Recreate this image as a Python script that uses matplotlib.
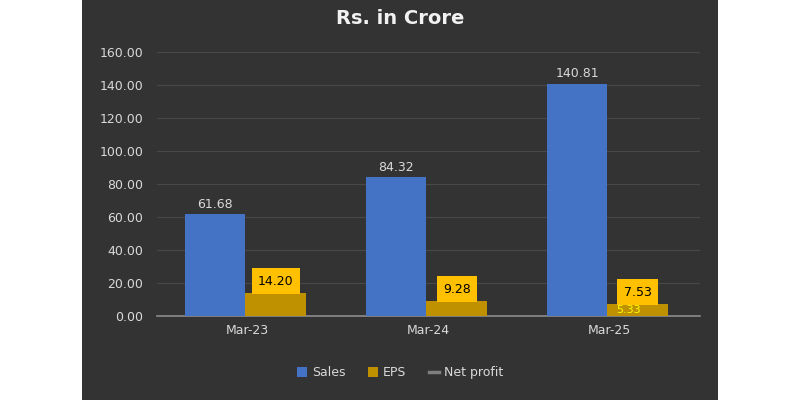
import matplotlib.pyplot as plt
import matplotlib.patches as patches
import numpy as np

# Data
periods = ['Mar-23', 'Mar-24', 'Mar-25']
sales = [61.68, 84.32, 140.81]
eps = [14.20, 9.28, 7.53]
net_profit = [np.nan, np.nan, 5.33]
net_profit_labels = ['', '', '5.33']
yticks = [0, 20, 40, 60, 80, 100, 120, 140, 160]


def main():
    fig = plt.figure(figsize=(8, 4), dpi=100)
    fig.patch.set_facecolor('white')

    # dark panel behind the chart
    panel = patches.Rectangle((82 / 800, 0), (718 - 82) / 800, 1, transform=fig.transFigure,
                              facecolor='#333333', edgecolor='none', zorder=-10)
    fig.patches.append(panel)

    ax = fig.add_axes([157 / 800, 0.21, (700 - 157) / 800, 0.66])
    ax.set_facecolor('none')

    x = np.arange(len(periods))
    w = 0.335
    shift = -0.012
    b1 = ax.bar(x - w / 2 + shift, sales, width=w, color='#4472C4', label='Sales', zorder=3)
    b2 = ax.bar(x + w / 2 + shift, eps, width=w, color='#BF9000', label='EPS', zorder=3)
    ln, = ax.plot(x + w / 2 + shift, net_profit, color='#7f7f7f', linewidth=2.5,
                  label='Net profit', zorder=4)

    # Labels
    for rect, v in zip(b1, sales):
        ax.text(rect.get_x() + rect.get_width() / 2, v + 2, f'{v:.2f}', ha='center', va='bottom',
                color='#d9d9d9', fontsize=9, zorder=5)
    for rect, v in zip(b2, eps):
        ax.text(rect.get_x() + rect.get_width() / 2, v + 7, f'{v:.2f}', ha='center', va='center',
                color='black', fontsize=9, zorder=5,
                bbox=dict(boxstyle='square,pad=0.5', facecolor='#FFC000', edgecolor='none'))
    for i, lab in enumerate(net_profit_labels):
        if lab:
            ax.text(x[i] + w / 2 + shift - 0.05, net_profit[i] - 1.5, lab, ha='center',
                    va='center', color='#ffff00', fontsize=8, zorder=6)

    ax.set_ylim(0, 160)
    ax.set_xlim(-0.5, 2.5)
    ax.set_yticks(yticks)
    ax.set_yticklabels([f'{t:.2f}' for t in yticks], color='#d9d9d9', fontsize=9)
    ax.set_xticks(x)
    ax.set_xticklabels(periods, color='#d9d9d9', fontsize=9)
    ax.tick_params(length=0, axis='y', pad=10)
    ax.tick_params(length=0, axis='x', pad=6)
    ax.yaxis.grid(True, color='#484848', linewidth=0.8, zorder=0)
    ax.set_axisbelow(True)
    for s in ['top', 'right', 'left']:
        ax.spines[s].set_visible(False)
    ax.spines['bottom'].set_color('#8c8c8c')
    ax.spines['bottom'].set_linewidth(1.2)

    fig.text(0.5, 0.955, 'Rs. in Crore', ha='center', va='center', color='#f2f2f2',
             fontsize=14, fontweight='bold')

    leg = fig.legend(handles=[b1, b2, ln], loc='center', bbox_to_anchor=(0.5, 0.068), ncol=3,
                     frameon=False, fontsize=9, handlelength=0.8, handleheight=0.8,
                     columnspacing=1.8, handletextpad=0.4)
    for t in leg.get_texts():
        t.set_color('#d9d9d9')

    fig.savefig('out.png', dpi=100, facecolor=fig.get_facecolor())


if __name__ == '__main__':
    main()
